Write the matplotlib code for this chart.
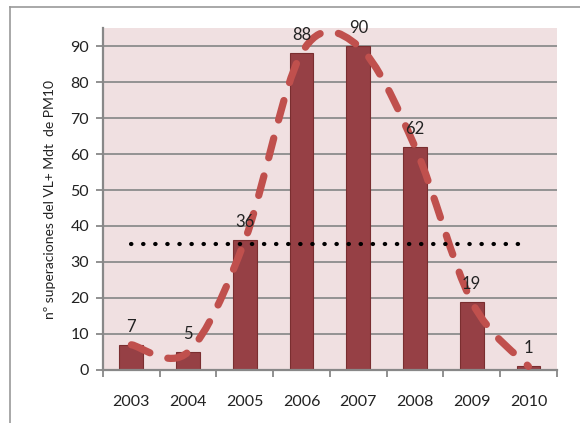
import numpy as np
import matplotlib
matplotlib.use('Agg')
import matplotlib.pyplot as plt
from matplotlib.path import Path
from matplotlib.patches import PathPatch
from matplotlib.lines import Line2D

# superaciones del valor limite diario de PM10 por año
years = ['2003', '2004', '2005', '2006', '2007', '2008', '2009', '2010']
exceed = [7, 5, 36, 88, 90, 62, 19, 1]
limit = 35   # nº de superaciones permitidas

plt.rcParams['font.family'] = ['Lato', 'DejaVu Sans']

fig = plt.figure(figsize=(5.8, 4.23), dpi=100)
ax = fig.add_axes([0.1776, 0.1253, 0.7824, 0.8085])
ax.set_facecolor('#F0E0E1')

x = np.arange(len(years))
ax.bar(x, exceed, width=0.42, color='#964045', edgecolor='#7A2E30', linewidth=0.8, zorder=2)

# linea suavizada (Bezier tipo Excel) a traves de los valores
pts = np.column_stack([x, exceed]).astype(float)
verts = [pts[0]]
codes = [Path.MOVETO]
for i in range(len(pts) - 1):
    p0 = pts[max(i - 1, 0)]
    p1 = pts[i]
    p2 = pts[i + 1]
    p3 = pts[min(i + 2, len(pts) - 1)]
    c1 = p1 + (p2 - p0) / 6.0
    c2 = p2 - (p3 - p1) / 6.0
    verts += [c1, c2, p2]
    codes += [Path.CURVE4] * 3
curve = PathPatch(Path(verts, codes), fill=False, edgecolor='#C0504D', linewidth=5.2,
                  linestyle=(0, (2.8, 2.6)), capstyle='round', zorder=3)
ax.add_patch(curve)

ax.plot([x[0], x[-1]], [limit, limit], linestyle=(0, (0.1, 2.8)), color='black',
        linewidth=3.0, dash_capstyle='round', zorder=4)

for xi, v in zip(x, exceed):
    ax.annotate(str(v), (xi, v), xytext=(0, 13), textcoords='offset points',
                ha='center', va='center', fontsize=12, color='#222222', zorder=5)

ax.set_xlim(-0.5, len(years) - 0.5)
ax.set_ylim(0, 95)
ax.set_yticks(range(0, 100, 10))
ax.set_xticks(x)
ax.set_xticklabels(years)
ax.set_xticks(np.arange(-0.5, len(years)), minor=True)
ax.tick_params(axis='x', which='major', length=0, pad=18, labelsize=11.5, labelcolor='#222222')
ax.tick_params(axis='x', which='minor', length=5, width=1.3, color='#888888', direction='out')
ax.tick_params(axis='y', length=5, width=1.3, color='#888888', labelsize=11.5,
               labelcolor='#222222', pad=5)
ax.yaxis.grid(True, color='#8C8C8C', linewidth=1.3, zorder=1)
ax.set_axisbelow(True)
for s in ['top', 'right']:
    ax.spines[s].set_visible(False)
for s in ['left', 'bottom']:
    ax.spines[s].set_color('#888888')
    ax.spines[s].set_linewidth(1.6)
ax.set_ylabel('nº superaciones del VL+ Mdt  de PM10', fontsize=10, color='#222222', labelpad=10)

# borde del grafico
fig.add_artist(Line2D([10 / 580, 10 / 580], [0, 1 - 7 / 423], transform=fig.transFigure,
                      color='#999999', linewidth=1.2))
fig.add_artist(Line2D([10 / 580, 1], [1 - 7 / 423, 1 - 7 / 423], transform=fig.transFigure,
                      color='#999999', linewidth=1.2))

fig.savefig('out.png', dpi=100, facecolor='white')
